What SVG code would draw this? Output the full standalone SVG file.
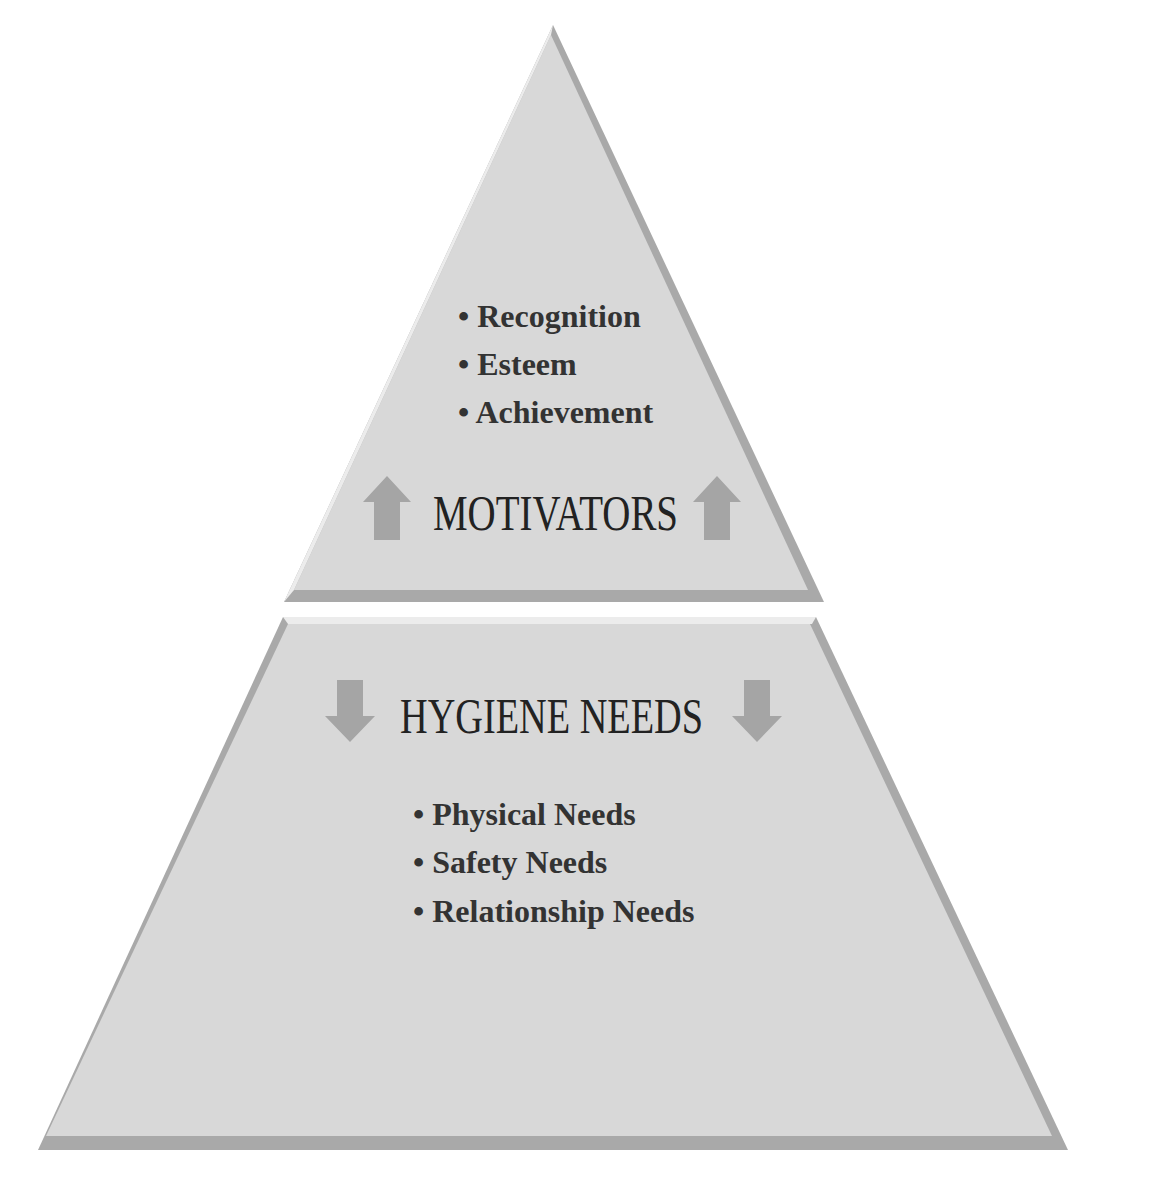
<svg xmlns="http://www.w3.org/2000/svg" width="1152" height="1200" viewBox="0 0 1152 1200">
<style>
.face{fill:#d8d8d8}
.edge{fill:#a9a9a9}
.hi{fill:#ececec}
.arr{fill:#a5a5a5}
.t{font-family:"Liberation Serif",serif;fill:#222}
.h{font-size:50px}
.b{font-size:32px;font-weight:bold;fill:#333}
</style>
<rect width="1152" height="1200" fill="#fff"/>
<g id="motivators">
<polygon class="edge" points="553,25 824,602 284,602"/>
<polygon class="face" points="551,35 808,590 294,590"/>
<polygon class="hi" points="553,25 551,35 294,590 284,602"/>
<path class="arr" d="M387,476 L411,502 L400,502 L400,540 L374,540 L374,502 L363,502 Z"/>
<path class="arr" d="M717,476 L741,502 L730,502 L730,540 L704,540 L704,502 L693,502 Z"/>
<text class="t h" x="433" y="530" textLength="245" lengthAdjust="spacingAndGlyphs">MOTIVATORS</text>
<text class="t b" x="458" y="327">• Recognition</text>
<text class="t b" x="458" y="375">• Esteem</text>
<text class="t b" x="458" y="423">• Achievement</text>
</g>
<g id="hygiene">
<polygon class="edge" points="283,617 816,617 1068,1150 38,1150"/>
<polygon class="hi" points="283,617 816,617 812,624 288,624"/>
<polygon class="face" points="288,624 810,624 1052,1136 46,1136"/>
<path class="arr" d="M337,680 L363,680 L363,716 L375,716 L350,742 L325,716 L337,716 Z"/>
<path class="arr" d="M744,680 L770,680 L770,716 L782,716 L757,742 L732,716 L744,716 Z"/>
<text class="t h" x="400" y="733" textLength="303" lengthAdjust="spacingAndGlyphs">HYGIENE NEEDS</text>
<text class="t b" x="413" y="825">• Physical Needs</text>
<text class="t b" x="413" y="873">• Safety Needs</text>
<text class="t b" x="413" y="922">• Relationship Needs</text>
</g>
<g id="connectors"/>
</svg>
